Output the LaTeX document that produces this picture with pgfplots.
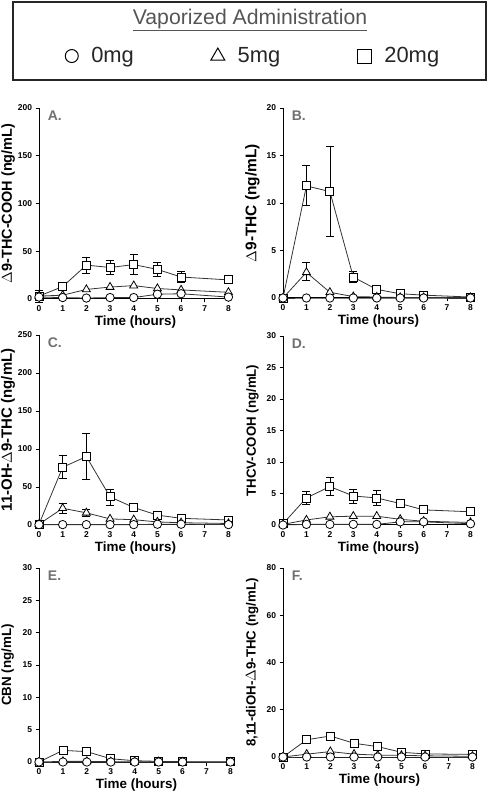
\documentclass[border=0pt]{standalone}
\usepackage{fontspec}
\setmainfont{Liberation Sans}
\usepackage{pgfplots}
\pgfplotsset{compat=1.18}
\definecolor{lc}{HTML}{333333}
\definecolor{lettc}{HTML}{707070}
\definecolor{titc}{HTML}{555555}
\pgfplotsset{
  panel/.style={scale only axis, width=193bp, height=191bp,
    xmin=0, xmax=8.15, ymin=0, axis lines=left, axis line style={-, line width=1pt, black},
    xtick={0,1,...,8}, tick align=outside, major tick length=3.5bp,
    tick style={black, line width=0.8pt},
    ticklabel style={font=\bfseries\fontsize{8.5}{8.5}\selectfont},
    /pgf/number format/assume math mode=true,
    clip=false,
    xlabel={Time (hours)},
    xlabel style={font=\bfseries\fontsize{13.5}{14}\selectfont, yshift=3bp},
    ylabel style={at={(axis description cs:-0.16,0.5)}, anchor=center, rotate=0},
  },
  sq/.style={color=lc, line width=0.8pt, mark=square*, mark size=4bp, mark options={fill=white, draw=black, line width=0.8pt, solid}},
  tr/.style={color=lc, line width=0.8pt, mark=triangle*, mark size=4.6bp, mark options={fill=white, draw=black, line width=0.8pt, solid}},
  ci/.style={color=lc, line width=0.8pt, mark=*, mark size=4.2bp, mark options={fill=white, draw=black, line width=0.8pt, solid}},
  eb/.style={draw=none, mark=none, forget plot, error bars/.cd, y dir=both, y explicit,
    error bar style={draw=black, line width=0.7pt},
    error mark options={rotate=90, mark size=4bp, draw=black, line width=0.7pt}},
}
\newcommand{\plet}[1]{\node[anchor=north west, inner sep=0pt, text=lettc, font=\bfseries\fontsize{14}{14}\selectfont] at (rel axis cs:0.045,0.985) {#1};}
\begin{document}
\begin{tikzpicture}
\useasboundingbox (0,0) rectangle (488bp,796bp);
% ---------- A ----------
\begin{axis}[panel, at={(39bp,497bp)}, anchor=south west, height=191bp,
  ymax=200, ytick={0,50,100,150,200},
  ylabel={$\Delta$9-THC-COOH (ng/mL)},
  ylabel style={font=\bfseries\fontsize{14.5}{15}\selectfont},
  legend columns=3,
  legend style={at={(1.11,1.272)}, anchor=center, draw=none, fill=none, inner sep=0pt,
    font=\fontsize{22}{22}\selectfont, text=black!85,
    /tikz/every odd column/.append style={column sep=11bp},
    /tikz/every even column/.append style={column sep=75bp}},
  legend cell align=left]
\addlegendimage{only marks, mark=o, mark size=6.5bp, black, line width=1pt}
\addlegendentry{0mg}
\addlegendimage{only marks, mark=triangle, mark size=8bp, black, line width=1pt}
\addlegendentry{5mg}
\addlegendimage{only marks, mark=square, mark size=7bp, black, line width=1pt}
\addlegendentry{20mg}
\addplot[eb] coordinates {(0,3) +- (0,6) (2,35.5) +- (0,8.5) (3,33) +- (0,7.5) (4,36) +- (0,10.5) (5,31) +- (0,7) (6,23) +- (0,5.5)};
\addplot[sq, forget plot] coordinates {(0,3) (1,13) (2,35.5) (3,33) (4,36) (5,31) (6,23) (8,20)};
\addplot[tr, forget plot] coordinates {(0,3) (1,4) (2,10) (3,12.5) (4,14) (5,11) (6,9.5) (8,7)};
\addplot[ci, forget plot] coordinates {(0,2) (1,1.5) (2,1) (3,1.5) (4,1.5) (5,5) (6,5.5) (8,2)};
\plet{A.}
\end{axis}
% ---------- B ----------
\begin{axis}[panel, at={(283bp,498bp)}, anchor=south west, width=191bp, height=190bp,
  ymax=20, ytick={0,5,10,15,20},
  ylabel={$\Delta$9-THC (ng/mL)},
  ylabel style={font=\bfseries\fontsize{15.5}{16}\selectfont}]
\addplot[eb] coordinates {(1,11.8) += (0,2.2) -= (0,2.0) (2,11.2) += (0,4.8) -= (0,4.7) (3,2.2) +- (0,0.6)};
\addplot[sq] coordinates {(0,0) (1,11.8) (2,11.2) (3,2.2) (4,0.9) (5,0.45) (6,0.3) (8,0.1)};
\addplot[eb] coordinates {(1,2.7) += (0,1.0) -= (0,0.8)};
\addplot[tr] coordinates {(0,0) (1,2.7) (2,0.6) (3,0.15) (4,0.1) (5,0.05) (6,0.05) (8,0.05)};
\addplot[ci] coordinates {(0,0) (1,0) (2,0) (3,0) (4,0) (5,0) (6,0) (8,0)};
\plet{B.}
\end{axis}
% ---------- C ----------
\begin{axis}[panel, at={(39bp,271bp)}, anchor=south west, height=190bp,
  ymax=250, ytick={0,50,100,150,200,250},
  ylabel={11-OH-$\Delta$9-THC (ng/mL)},
  ylabel style={font=\bfseries\fontsize{15}{15}\selectfont}]
\addplot[eb] coordinates {(1,76) +- (0,15) (2,90) +- (0,30) (3,37) +- (0,10.5) (4,23) +- (0,3)};
\addplot[sq] coordinates {(0,1) (1,76) (2,90) (3,37) (4,23) (5,13) (6,8.8) (8,6.6)};
\addplot[eb] coordinates {(1,22) +- (0,7) (2,16) +- (0,4.5)};
\addplot[tr] coordinates {(0,1) (1,22) (2,16) (3,8) (4,7) (5,4) (6,3) (8,2)};
\addplot[ci] coordinates {(0,0.5) (1,0.5) (2,0.5) (3,0.5) (4,0.5) (5,1) (6,1) (8,0.5)};
\plet{C.}
\end{axis}
% ---------- D ----------
\begin{axis}[panel, at={(283bp,271bp)}, anchor=south west, width=191bp, height=189bp,
  ymax=30, ytick={0,5,10,15,20,25,30},
  ylabel={THCV-COOH (ng/mL)},
  ylabel style={font=\bfseries\fontsize{13.3}{14}\selectfont}]
\addplot[eb] coordinates {(1,4.3) +- (0,1.0) (2,6.1) +- (0,1.4) (3,4.6) +- (0,1.1) (4,4.3) +- (0,1.2) (5,3.4) +- (0,0.4)};
\addplot[sq] coordinates {(0,0.2) (1,4.3) (2,6.1) (3,4.6) (4,4.3) (5,3.4) (6,2.4) (8,2.1)};
\addplot[tr] coordinates {(0,0.1) (1,0.8) (2,1.3) (3,1.4) (4,1.4) (5,0.9) (6,0.6) (8,0.4)};
\addplot[ci] coordinates {(0,0) (1,0.1) (2,0.1) (3,0.1) (4,0.1) (5,0.5) (6,0.5) (8,0.2)};
\plet{D.}
\end{axis}
% ---------- E ----------
\begin{axis}[panel, at={(39bp,34bp)}, anchor=south west, width=195bp, height=194bp,
  ymax=30, ytick={0,5,10,15,20,25,30},
  ylabel={CBN (ng/mL)},
  ylabel style={font=\bfseries\fontsize{13.4}{14}\selectfont}]
\addplot[sq] coordinates {(0,0) (1,1.8) (2,1.6) (3,0.5) (4,0.2) (5,0.1) (6,0.05) (8,0.05)};
\addplot[tr] coordinates {(0,0) (1,0.1) (2,0.1) (3,0.05) (4,0.05) (5,0.05) (6,0) (8,0)};
\addplot[ci] coordinates {(0,0) (1,0) (2,0) (3,0) (4,0) (5,0) (6,0) (8,0)};
\plet{E.}
\end{axis}
% ---------- F ----------
\begin{axis}[panel, at={(283bp,39bp)}, anchor=south west, width=193bp, height=189bp,
  ymax=80, ytick={0,20,40,60,80},
  ylabel={8,11-diOH-$\Delta$9-THC (ng/mL)},
  ylabel style={font=\bfseries\fontsize{13.3}{14}\selectfont}]
\addplot[sq] coordinates {(0,0) (1,7.3) (2,8.9) (3,5.8) (4,4.4) (5,2) (6,1.3) (8,1.1)};
\addplot[tr] coordinates {(0,0) (1,1.2) (2,2.3) (3,1.2) (4,0.8) (5,0.7) (6,0.5) (8,0.3)};
\addplot[ci] coordinates {(0,0) (1,0) (2,0) (3,0) (4,0) (5,0) (6,0) (8,0)};
\plet{F.}
\end{axis}
% ---------- legend frame and title ----------
\draw[line width=1.6bp, black!85] (13bp,716bp) rectangle (486bp,794bp);
\node[text=titc, font=\fontsize{21.3}{22}\selectfont] at (250bp,776bp) {\underline{Vaporized Administration}};
\end{tikzpicture}
\end{document}
